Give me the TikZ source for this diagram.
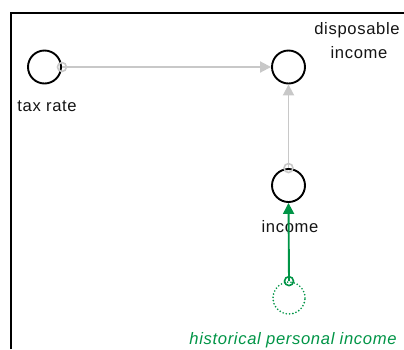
\documentclass[tikz,border=0pt]{standalone}
\usepackage{fontspec}
\setmainfont{Liberation Sans}[LetterSpace=4]
\usetikzlibrary{arrows.meta}
\definecolor{linkgray}{RGB}{200,200,200}
\definecolor{histgreen}{RGB}{0,148,70}
\definecolor{labelgray}{RGB}{20,20,20}
\begin{document}
\begin{tikzpicture}[x=1pt,y=-1pt,
  var/.style={circle, draw=black, line width=1.9pt, minimum size=33pt, inner sep=0pt},
  ghost/.style={circle, draw=histgreen, line width=1.8pt, line cap=round,
    dash pattern=on 0pt off 3.3pt, minimum size=32pt, inner sep=0pt},
  lbl/.style={font=\fontsize{16.6}{19}\selectfont, text=labelgray, inner sep=0pt},
  histlbl/.style={lbl, text=histgreen, font=\fontsize{16.6}{19}\selectfont\itshape},
  link/.style={draw=linkgray, line width=1.9pt, -{Triangle[length=11pt,width=11pt]}},
  greenlink/.style={draw=histgreen, line width=1.9pt, -{Triangle[length=11pt,width=11pt]}},
  tailring/.style={circle, draw=#1, line width=1.6pt, minimum size=9pt, inner sep=0pt},
]
\useasboundingbox (0,0) rectangle (404,349);
% outer frame
\draw[line width=2.3pt] (11,349) -- (11,13) -- (404,13);

% variables
\node[var] (tax) at (44.5,67) {};
\node[var] (disp) at (288.5,67) {};
\node[var] (inc) at (288.5,185.5) {};
\node[ghost] (hist) at (289,298) {};

% labels
\node[lbl] (taxlbl) at (47,106) {tax rate};
\node[lbl] (displbl1) at (357,30) {disposable};
\node[lbl] (displbl2) at (359,53) {income};
\node[lbl] (inclbl) at (290,227) {income};
\node[histlbl] (histlbl) at (293,340) {historical personal income};

% links
\draw[link] (tax.east) -- (disp.west);
\draw[link] (inc.north) -- (disp.south);
\draw[greenlink] (hist.north) -- (inc.south);

% tail markers
\node[tailring=linkgray] (t1) at (tax.east) {};
\node[tailring=linkgray] (t2) at (inc.north) {};
\node[tailring=histgreen] (t3) at (hist.north) {};
\end{tikzpicture}
\end{document}
